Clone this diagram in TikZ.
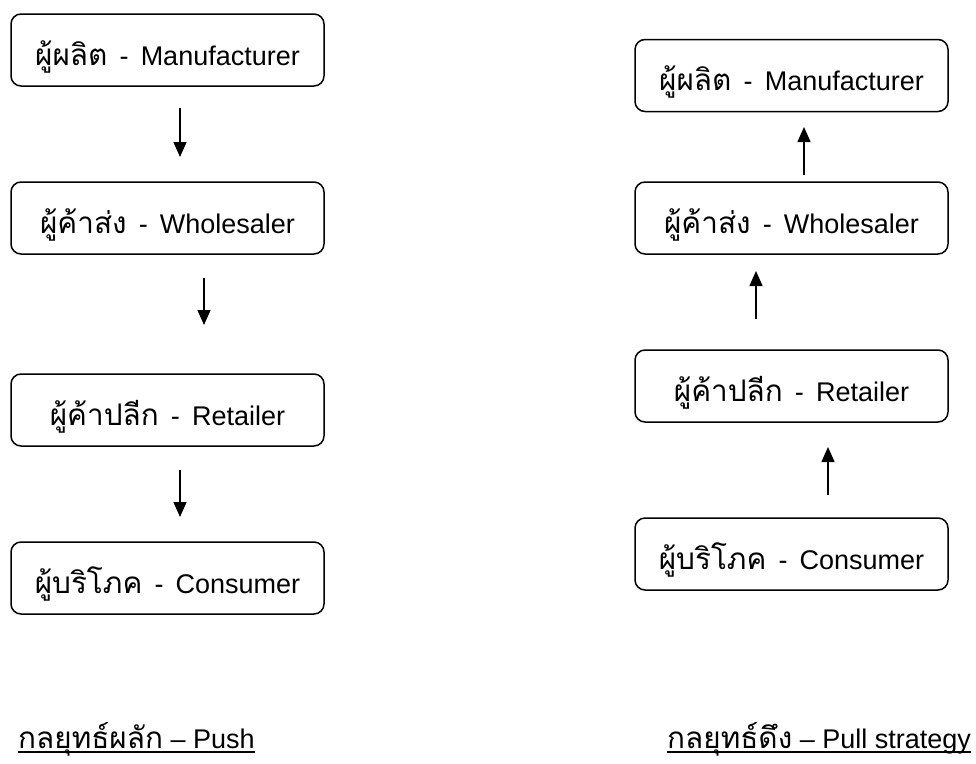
\documentclass[tikz,border=0pt]{standalone}
\usepackage{fontspec}
\setmainfont{Liberation Sans}
\newfontfamily\thaifont[Script=Thai,Scale=1.1]{Loma}
\usetikzlibrary{arrows.meta}
\newcommand{\sepdash}{\hspace{0.45em}-\hspace{0.45em}}
\tikzset{
  stagebox/.style={draw=black, line width=1.5pt, rounded corners=10pt,
    minimum width=313pt, minimum height=72pt, inner sep=0pt,
    text height=31pt, text depth=1pt,
    font=\fontsize{27}{31}\selectfont},
  flowarrow/.style={line width=1.4pt, -{Triangle[width=13pt,length=15pt]}},
  caption/.style={anchor=base west, inner sep=0pt, font=\fontsize{27}{31}\selectfont},
  uline/.style={line width=1.8pt}
}
\begin{document}
\begin{tikzpicture}[x=1pt,y=-1pt]
\useasboundingbox (0,0) rectangle (976,763);
% Push column
\node[stagebox] (lman) at (167.5,50) {{\thaifont ผู้ผลิต}\sepdash Manufacturer};
\node[stagebox] (lwho) at (167.5,218) {{\thaifont ผู้ค้าส่ง}\sepdash Wholesaler};
\node[stagebox] (lret) at (167.5,410) {{\thaifont ผู้ค้าปลีก}\sepdash Retailer};
\node[stagebox] (lcon) at (167.5,578) {{\thaifont ผู้บริโภค}\sepdash Consumer};
\coordinate (la1s) at (180,108); \coordinate (la1e) at (180,157);
\coordinate (la2s) at (204,278); \coordinate (la2e) at (204,325);
\coordinate (la3s) at (180,470); \coordinate (la3e) at (180,517);
\draw[flowarrow] (la1s) -- (la1e);
\draw[flowarrow] (la2s) -- (la2e);
\draw[flowarrow] (la3s) -- (la3e);
% Pull column
\node[stagebox] (rman) at (791.5,75.5) {{\thaifont ผู้ผลิต}\sepdash Manufacturer};
\node[stagebox] (rwho) at (791.5,218) {{\thaifont ผู้ค้าส่ง}\sepdash Wholesaler};
\node[stagebox] (rret) at (791.5,386) {{\thaifont ผู้ค้าปลีก}\sepdash Retailer};
\node[stagebox] (rcon) at (791.5,554) {{\thaifont ผู้บริโภค}\sepdash Consumer};
\coordinate (ra1s) at (804,175); \coordinate (ra1e) at (804,127);
\coordinate (ra2s) at (756,319); \coordinate (ra2e) at (756,271);
\coordinate (ra3s) at (828,495); \coordinate (ra3e) at (828,447);
\draw[flowarrow] (ra1s) -- (ra1e);
\draw[flowarrow] (ra2s) -- (ra2e);
\draw[flowarrow] (ra3s) -- (ra3e);
% captions
\node[caption] (pushlbl) at (18,748) {{\thaifont กลยุทธ์ผลัก} – Push};
\node[caption] (pulllbl) at (667,748) {{\thaifont กลยุทธ์ดึง} – Pull strategy};
\draw[uline] ([yshift=-4pt]pushlbl.base west) -- ([yshift=-4pt]pushlbl.base east);
\draw[uline] ([yshift=-4pt]pulllbl.base west) -- ([yshift=-4pt]pulllbl.base east);
\end{tikzpicture}
\end{document}
